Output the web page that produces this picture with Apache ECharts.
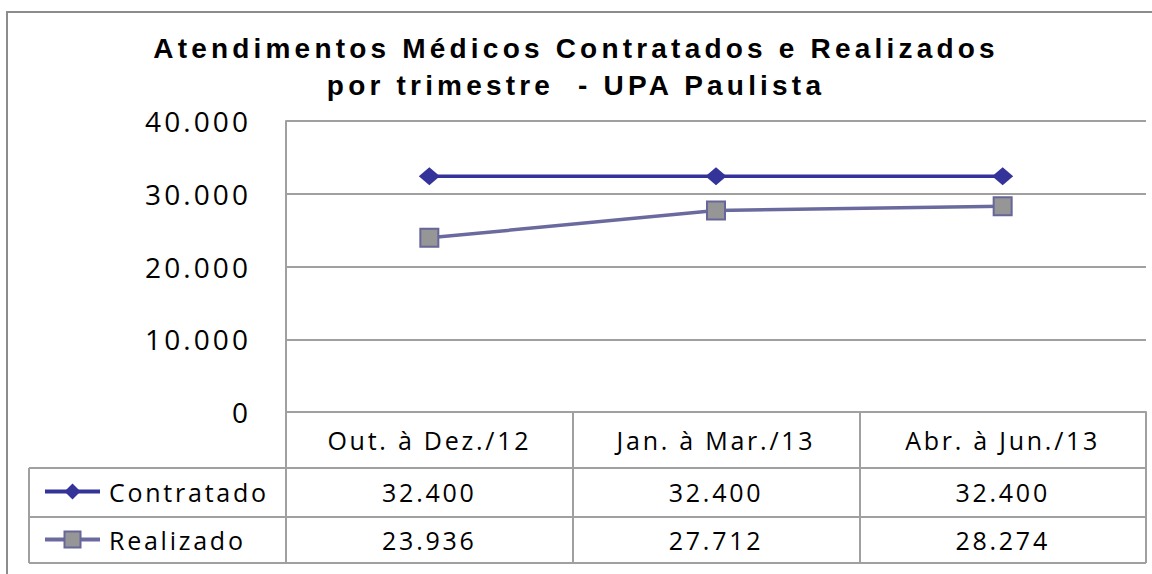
<!DOCTYPE html>
<html><head><meta charset="utf-8">
<script src="https://cdn.jsdelivr.net/npm/echarts@6/dist/echarts.min.js"></script>
<style>
html,body{margin:0;padding:0;background:#fff;}
#chart{width:1152px;height:574px;}
#chart svg text{letter-spacing:0.11em;}
#chart svg text[style*="bold"], #chart svg text[font-weight="bold"]{letter-spacing:0.15em;}
</style></head><body><div id="chart"></div>
<script>
// ---- data ----
const titleText = 'Atendimentos Médicos Contratados e Realizados\npor trimestre  - UPA Paulista';
const categories = ['Out. à Dez./12', 'Jan. à Mar./13', 'Abr. à Jun./13'];
const seriesNames = ['Contratado', 'Realizado'];
const contratado = [32400, 32400, 32400];
const realizado = [23936, 27712, 28274];
const yTicks = [0, 10000, 20000, 30000, 40000];

// ---- layout ----
const W = 1152, H = 574;
const GL = 286, GR = 1146, GT = 121, GB = 412;
const ROW_H0 = 468, ROW_H1 = 517, ROW_H2 = 563, TL = 29;
const GRIDC = '#a0a0a0';
const TXT = {fontFamily: '"Open Sans", sans-serif', fontSize: 25, color: '#000'};

function fmt(v) { return String(v).replace(/\B(?=(\d{3})+(?!\d))/g, '.'); }

const chart = echarts.init(document.getElementById('chart'), null, {renderer: 'svg', width: W, height: H});

const rowAxis = (vals, margin) => ({
  type: 'category', gridIndex: 0, position: 'bottom', data: vals.map(fmt),
  axisLine: {show: false}, axisTick: {show: false}, splitLine: {show: false},
  axisLabel: Object.assign({interval: 0, margin: margin, verticalAlign: 'middle'}, TXT)
});

chart.setOption({
  animation: false,
  backgroundColor: '#fff',
  title: {
    text: titleText, left: 'center', top: 25,
    textStyle: {fontFamily: '"Liberation Sans", Arial, sans-serif', fontWeight: 'bold', fontSize: 28, lineHeight: 37, color: '#000'}
  },
  grid: {left: GL, right: W - GR, top: GT, bottom: H - GB, containLabel: false},
  legend: {
    data: seriesNames, orient: 'vertical', left: 43, top: 479, padding: 0,
    itemWidth: 55, itemHeight: 20, itemGap: 23, selectedMode: false,
    lineStyle: {width: 4},
    textStyle: Object.assign({padding: [0, 0, 0, 4]}, TXT)
  },
  xAxis: [
    {
      type: 'category', data: categories, boundaryGap: true,
      axisLine: {show: true, lineStyle: {color: GRIDC, width: 2}},
      axisTick: {show: true, interval: 0, length: ROW_H2 - GB, lineStyle: {color: GRIDC, width: 2}},
      axisLabel: Object.assign({interval: 0, margin: (GB + ROW_H0) / 2 - GB, verticalAlign: 'middle'}, TXT),
      splitLine: {show: false}
    },
    rowAxis(contratado, (ROW_H0 + ROW_H1) / 2 - GB - 1),
    rowAxis(realizado, (ROW_H1 + ROW_H2) / 2 - GB)
  ],
  yAxis: {
    type: 'value', min: yTicks[0], max: yTicks[yTicks.length - 1], interval: yTicks[1] - yTicks[0],
    axisLine: {show: true, lineStyle: {color: GRIDC, width: 2}},
    axisTick: {show: false},
    splitLine: {show: true, lineStyle: {color: GRIDC, width: 2}},
    axisLabel: Object.assign({margin: 35, formatter: v => fmt(v)}, TXT, {fontSize: 28})
  },
  series: [
    {
      name: seriesNames[0], type: 'line', data: contratado, symbol: 'diamond', symbolSize: [21, 18],
      itemStyle: {color: '#333399'}, lineStyle: {color: '#333399', width: 3.5}, z: 3
    },
    {
      name: seriesNames[1], type: 'line', data: realizado, symbol: 'rect', symbolSize: 18,
      itemStyle: {color: '#969696', borderColor: '#666699', borderWidth: 2},
      lineStyle: {color: '#6a6a9e', width: 3.5}, z: 2
    }
  ],
  graphic: [
    {type: 'rect', shape: {x: 7, y: 12, width: W + 20, height: H + 20}, style: {fill: null, stroke: '#8c8c8c', lineWidth: 2}, silent: true, z: -1},
    {type: 'line', shape: {x1: TL, y1: ROW_H0, x2: GR, y2: ROW_H0}, style: {stroke: GRIDC, lineWidth: 2}, silent: true},
    {type: 'line', shape: {x1: TL, y1: ROW_H1, x2: GR, y2: ROW_H1}, style: {stroke: GRIDC, lineWidth: 2}, silent: true},
    {type: 'line', shape: {x1: TL, y1: ROW_H2, x2: GR, y2: ROW_H2}, style: {stroke: GRIDC, lineWidth: 2}, silent: true},
    {type: 'line', shape: {x1: TL, y1: ROW_H0, x2: TL, y2: ROW_H2}, style: {stroke: GRIDC, lineWidth: 2}, silent: true}
  ]
});
</script></body></html>
